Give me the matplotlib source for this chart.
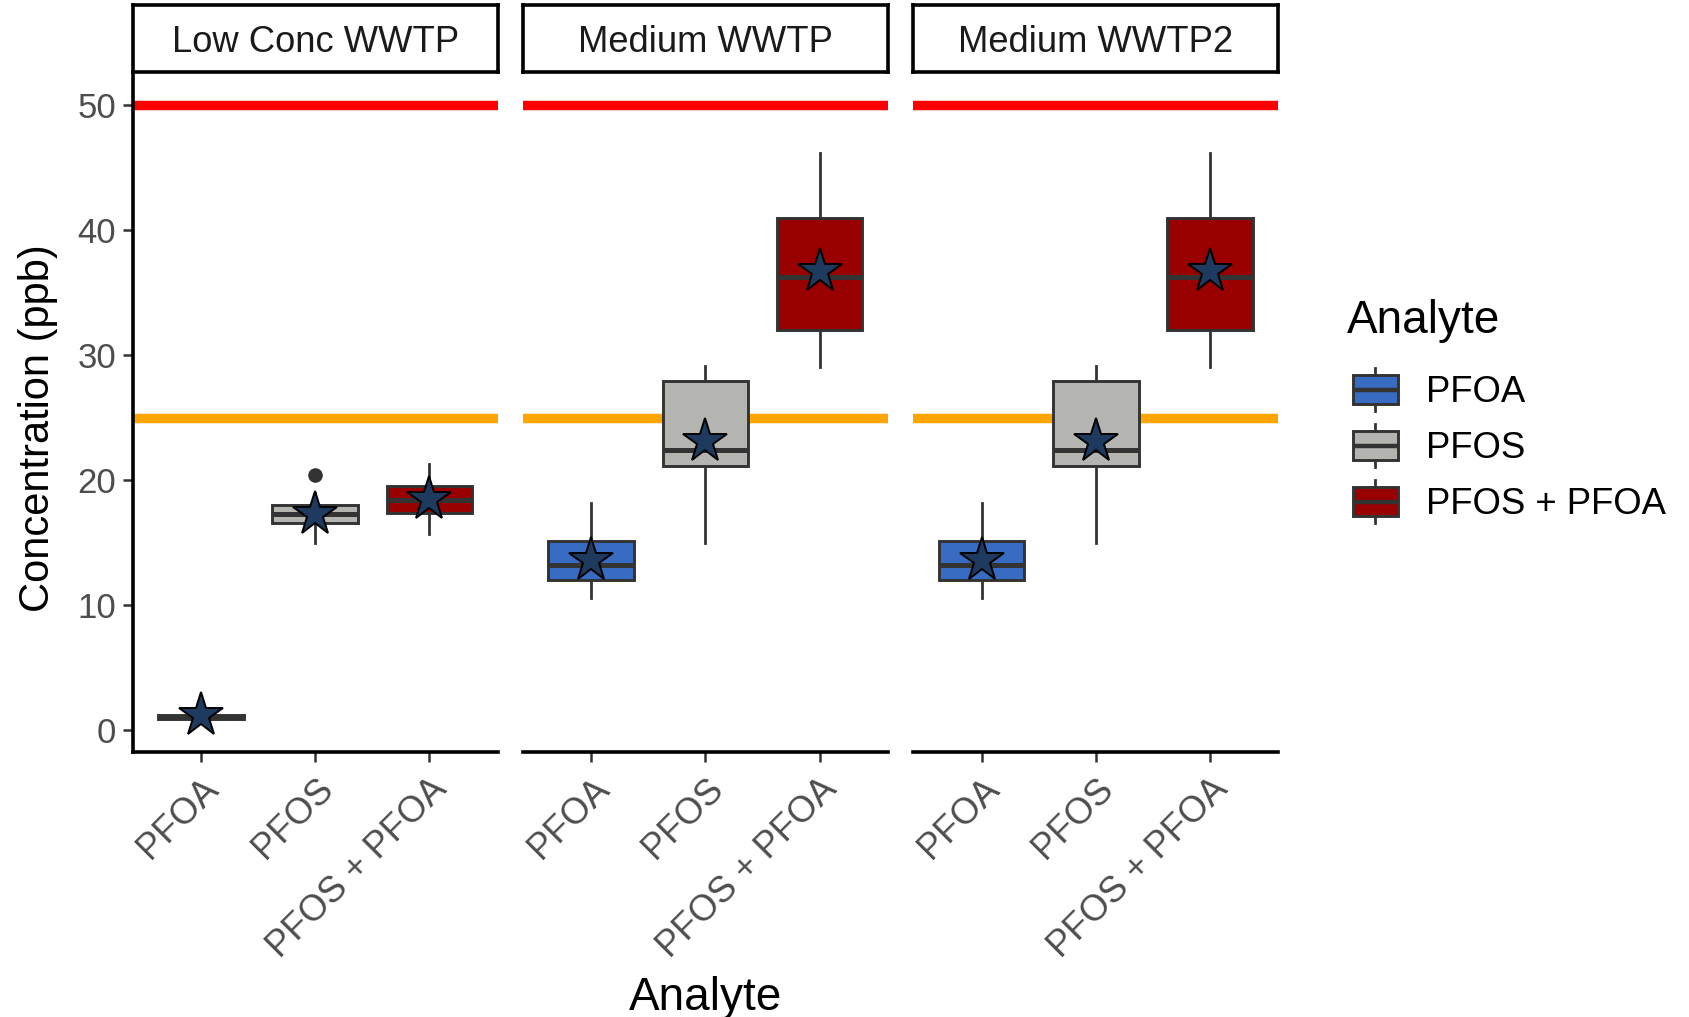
import matplotlib
matplotlib.use("Agg")
import matplotlib.pyplot as plt
from matplotlib.patches import Rectangle
import numpy as np

plt.rcParams['font.family'] = ['Liberation Sans', 'DejaVu Sans']

# ---------------- data ----------------
panels = ["Low Conc WWTP", "Medium WWTP", "Medium WWTP2"]
analytes = ["PFOA", "PFOS", "PFOS + PFOA"]
fill_colors = ["#386CC2", "#B4B4B0", "#990000"]

low_whislo = [0.85, 15.0, 15.7]
low_q1 = [0.95, 16.6, 17.4]
low_med = [1.1, 17.3, 18.4]
low_q3 = [1.25, 18.0, 19.5]
low_whishi = [1.35, 19.0, 21.3]
low_mean = [1.2, 17.3, 18.5]
low_fliers = [[], [20.4], []]

med_whislo = [10.6, 15.0, 29.0]
med_q1 = [12.0, 21.1, 32.0]
med_med = [13.2, 22.4, 36.2]
med_q3 = [15.1, 27.9, 40.9]
med_whishi = [18.2, 29.1, 46.1]
med_mean = [13.6, 23.1, 36.7]
med_fliers = [[], [], []]

med2_whislo = [10.6, 15.0, 29.0]
med2_q1 = [12.0, 21.1, 32.0]
med2_med = [13.2, 22.4, 36.2]
med2_q3 = [15.1, 27.9, 40.9]
med2_whishi = [18.2, 29.1, 46.1]
med2_mean = [13.6, 23.1, 36.7]
med2_fliers = [[], [], []]

hline_values = [50, 25]
hline_colors = ["#FF0000", "#FFA500"]
y_ticks = [0, 10, 20, 30, 40, 50]

panel_data = [
    (low_whislo, low_q1, low_med, low_q3, low_whishi, low_mean, low_fliers),
    (med_whislo, med_q1, med_med, med_q3, med_whishi, med_mean, med_fliers),
    (med2_whislo, med2_q1, med2_med, med2_q3, med2_whishi, med2_mean, med2_fliers),
]

# ---------------- figure ----------------
W, H = 1690, 1017
fig = plt.figure(figsize=(W / 100, H / 100), dpi=100)

lefts = [132.6, 522.7, 913.0]
pw = 365.4
ax_top, ax_bot = 72.0, 752.0
strip_top = 5.4

edge = "#333333"
ylim = (-1.72, 52.6)

axes = []
for i, (name, d) in enumerate(zip(panels, panel_data)):
    ax = fig.add_axes([lefts[i] / W, 1 - ax_bot / H, pw / W, (ax_bot - ax_top) / H])
    axes.append(ax)
    whislo, q1, med, q3, whishi, mean, fliers = d
    pos = np.arange(1, len(analytes) + 1)
    for hv, hc in zip(hline_values, hline_colors):
        ax.axhline(hv, color=hc, lw=6.8, zorder=1)
    stats = []
    for k in range(len(analytes)):
        stats.append(dict(whislo=whislo[k], q1=q1[k], med=med[k], q3=q3[k],
                          whishi=whishi[k], fliers=fliers[k], label=analytes[k]))
    bp = ax.bxp(stats, positions=pos, widths=0.75, patch_artist=True,
                showcaps=False, showfliers=True,
                boxprops=dict(edgecolor=edge, linewidth=2.1),
                whiskerprops=dict(color=edge, linewidth=2.0),
                medianprops=dict(color=edge, linewidth=3.6, solid_capstyle='butt'),
                flierprops=dict(marker='o', markerfacecolor=edge, markeredgecolor=edge,
                                markersize=9.5),
                zorder=2)
    for patch, fc in zip(bp['boxes'], fill_colors):
        patch.set_facecolor(fc)
    ax.plot(pos, mean, linestyle='none', marker='*', markersize=33,
            markerfacecolor="#1E3A5F", markeredgecolor="black", markeredgewidth=1.4,
            zorder=4)
    ax.set_xlim(0.4, 3.6)
    ax.set_ylim(*ylim)
    ax.set_xticks(pos)
    ax.set_xticklabels(analytes, rotation=45, ha='right', va='top',
                       rotation_mode='anchor', fontsize=26, color="#4D4D4D")
    ax.tick_params(axis='x', length=7, width=1.8, color=edge, pad=7)
    for s in ['top', 'right']:
        ax.spines[s].set_visible(False)
    ax.spines['bottom'].set_linewidth(2.6)
    ax.spines['bottom'].set_color('black')
    if i == 0:
        ax.spines['left'].set_linewidth(2.6)
        ax.spines['left'].set_color('black')
        ax.set_yticks(y_ticks)
        ax.set_yticklabels([str(t) for t in y_ticks], fontsize=25, color="#4D4D4D")
        ax.tick_params(axis='y', length=7, width=1.8, color=edge, pad=5)
    else:
        ax.spines['left'].set_visible(False)
        ax.set_yticks([])
    ax.set_facecolor('none')

    # strip
    sax = fig.add_axes([lefts[i] / W, 1 - ax_top / H, pw / W, (ax_top - strip_top) / H])
    sax.set_xticks([])
    sax.set_yticks([])
    for s in sax.spines.values():
        s.set_linewidth(2.6)
        s.set_color('black')
    sax.text(0.5, 0.45, name, transform=sax.transAxes, ha='center', va='center',
             fontsize=26.2, color="#1A1A1A")

# axis titles
fig.text(37.7 / W, 1 - 428 / H, "Concentration (ppb)", rotation=90,
         ha='center', va='center', fontsize=30)
fig.text(706 / W, 1 - 998 / H, "Analyte", ha='center', va='center', fontsize=33)

# legend drawn in pixel coordinates
lax = fig.add_axes([0, 0, 1, 1])
lax.set_xlim(0, W)
lax.set_ylim(H, 0)
lax.axis('off')
lax.text(1347, 321, "Analyte", ha='left', va='center', fontsize=33)
row_y = [389.5, 445.5, 501.5]
kx0, kw, kh = 1353, 45, 29
for yc, fc, lab in zip(row_y, fill_colors, analytes):
    lax.plot([kx0 + kw / 2] * 2, [yc - kh / 2 - 7, yc + kh / 2 + 7], color=edge, lw=2.0,
             zorder=1)
    lax.add_patch(Rectangle((kx0, yc - kh / 2), kw, kh, facecolor=fc, edgecolor=edge,
                            lw=2.1, zorder=2))
    lax.plot([kx0, kx0 + kw], [yc, yc], color=edge, lw=3.2, zorder=3, solid_capstyle='butt')
    lax.text(1426, yc + 2.5, lab, ha='left', va='center', fontsize=26.3)

fig.savefig("out.png", dpi=100)
